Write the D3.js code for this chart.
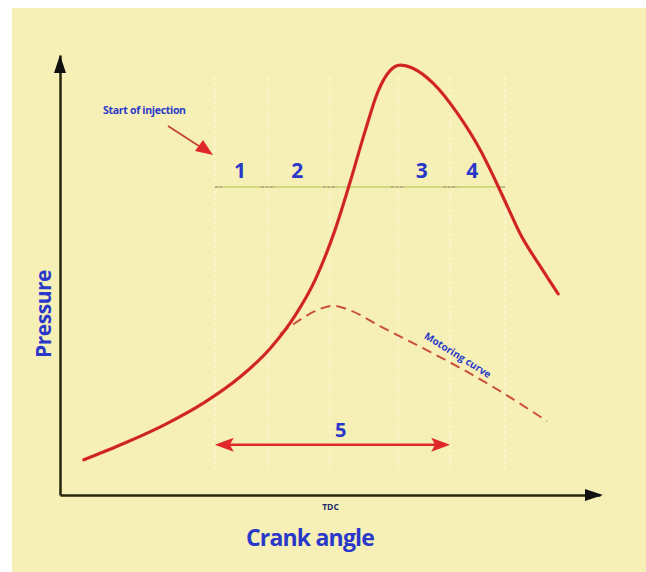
<!DOCTYPE html>
<html>
<head>
<meta charset="utf-8">
<script src="https://cdn.jsdelivr.net/npm/d3@7"></script>
<style>
  html, body { margin: 0; padding: 0; background: #fff; }
  svg { display: block; }
</style>
</head>
<body>
<div id="chart"></div>
<script>
// crank angle in degrees (TDC = 0), pressure in arbitrary units (0..100)
const firedAngle    = [-54.7, -45.6, -36.7, -27.8, -20, -13.3, -7.8, -3.3, 1.1, 4.4, 7.8, 10.7, 13.3, 15.6, 18.4, 22.9, 28.4, 33.6, 36.7, 39.6, 42.2, 46.7, 50.7];
const firedPressure = [8.0, 11.8, 16.0, 21.1, 26.8, 33.3, 40.7, 48.9, 60.2, 70.9, 82.7, 91.8, 96.4, 97.7, 97.0, 93.6, 86.6, 78.0, 71.6, 65.2, 59.5, 52.0, 45.7];

const motorAngle    = [-11.1, -6.7, -2.2, 0.9, 4.4, 11.1, 20.2, 28.9, 37.8, 48.2];
const motorPressure = [36.6, 39.8, 42.3, 43.0, 42.0, 38.4, 33.6, 28.9, 23.6, 16.8];

const dividerAngles = [-25.6, -13.8, 0, 15.1, 26.7, 38.9];
const phaseLabels   = ["1", "2", "3", "4"];
const phaseAngles   = [-20, -7.3, 20.4, 31.6];
const phaseLevel    = 70;

const delayLabel    = "5";
const delayRange    = [-25.6, 26.7];
const delayLevel    = 11.4;

const W = 646, H = 572;
const BLUE = "#2a38c9";
const RED = "#e0282a";
const FONT = "'Open Sans', 'Noto Sans', sans-serif";

const svg = d3.select("#chart").append("svg")
  .attr("width", W).attr("height", H);

svg.append("rect")
  .attr("x", 12).attr("y", 8)
  .attr("width", W - 12).attr("height", H - 8)
  .attr("fill", "#f6f0b6");

const x = d3.scaleLinear().domain([-60, 60]).range([60, 600]);
const y = d3.scaleLinear().domain([0, 100]).range([495, 55]);

// faint vertical guide lines
svg.append("g").selectAll("line")
  .data(dividerAngles)
  .join("line")
  .attr("x1", d => x(d)).attr("x2", d => x(d))
  .attr("y1", y(95)).attr("y2", y(5))
  .attr("stroke", "#fffbe0")
  .attr("stroke-width", 1.5)
  .attr("stroke-dasharray", "3,3")
  .attr("opacity", 0.7);

// phase line
svg.append("line")
  .attr("x1", x(dividerAngles[0])).attr("x2", x(dividerAngles[dividerAngles.length - 1]))
  .attr("y1", y(phaseLevel)).attr("y2", y(phaseLevel))
  .attr("stroke", "#a9c24a")
  .attr("stroke-width", 1.2);

svg.append("g").selectAll("line")
  .data(dividerAngles)
  .join("line")
  .attr("x1", (d, i) => x(d) - (i === 0 ? 0 : 7))
  .attr("x2", (d, i) => x(d) + (i === dividerAngles.length - 1 ? 0 : 7))
  .attr("y1", y(phaseLevel)).attr("y2", y(phaseLevel))
  .attr("stroke", "#b9b082")
  .attr("stroke-width", 2)
  .attr("stroke-dasharray", "3,1.5");

svg.append("g").selectAll("text")
  .data(phaseLabels)
  .join("text")
  .attr("x", (d, i) => x(phaseAngles[i]))
  .attr("y", y(phaseLevel) - 9)
  .attr("text-anchor", "middle")
  .attr("font-family", FONT)
  .attr("font-weight", 700)
  .attr("font-size", 21)
  .attr("fill", BLUE)
  .text(d => d);

// axes
const xAxis = svg.append("g")
  .attr("transform", `translate(0,${y(0)})`)
  .call(d3.axisBottom(x).tickValues([0]).tickFormat(() => "TDC").tickSize(0).tickSizeOuter(0).tickPadding(9));
xAxis.select(".domain").attr("stroke", "#26240c").attr("stroke-width", 2.5);
xAxis.selectAll("text")
  .attr("font-family", FONT).attr("font-weight", 700).attr("font-size", 8.5)
  .attr("fill", "#1e2a6a");

const yAxis = svg.append("g")
  .attr("transform", `translate(${x(-60)},0)`)
  .call(d3.axisLeft(y).tickValues([]).tickSizeOuter(0));
yAxis.select(".domain").attr("stroke", "#26240c").attr("stroke-width", 2.5);

// axis arrowheads
svg.append("path")
  .attr("d", `M${x(-60)},${y(100)} L${x(-60) - 6},${y(100) + 18} L${x(-60) + 6},${y(100) + 18} Z`)
  .attr("fill", "#111");
svg.append("path")
  .attr("d", `M${x(60) + 3},${y(0)} L${x(60) - 15},${y(0) - 6} L${x(60) - 15},${y(0) + 6} Z`)
  .attr("fill", "#111");

// motoring curve
const motorLine = d3.line()
  .x((d, i) => x(motorAngle[i]))
  .y(d => y(d))
  .curve(d3.curveMonotoneX);
svg.append("path")
  .attr("d", motorLine(motorPressure))
  .attr("fill", "none")
  .attr("stroke", "#c9503a")
  .attr("stroke-width", 2)
  .attr("stroke-dasharray", "10,6");

// fired pressure curve
const firedLine = d3.line()
  .x((d, i) => x(firedAngle[i]))
  .y(d => y(d))
  .curve(d3.curveMonotoneX);
svg.append("path")
  .attr("d", firedLine(firedPressure))
  .attr("fill", "none")
  .attr("stroke", RED)
  .attr("stroke-width", 3.2)
  .attr("stroke-linecap", "round");
svg.append("path")
  .attr("d", firedLine(firedPressure))
  .attr("fill", "none")
  .attr("stroke", "#a8261c")
  .attr("stroke-width", 1.2)
  .attr("opacity", 0.6);

// motoring label
svg.append("text")
  .attr("transform", `translate(${x(28.4)},${y(31.8)}) rotate(32)`)
  .attr("text-anchor", "middle")
  .attr("dy", "0.35em")
  .attr("font-family", FONT).attr("font-weight", 700).attr("font-size", 10)
  .attr("fill", BLUE)
  .text("Motoring curve");

// ignition delay double arrow
const ay = y(delayLevel);
const ax0 = x(delayRange[0]), ax1 = x(delayRange[1]);
svg.append("line")
  .attr("x1", ax0 + 10).attr("x2", ax1 - 10)
  .attr("y1", ay).attr("y2", ay)
  .attr("stroke", RED).attr("stroke-width", 2.5);
svg.append("path")
  .attr("d", `M${ax0},${ay} L${ax0 + 19},${ay - 7} L${ax0 + 15},${ay} L${ax0 + 19},${ay + 7} Z`)
  .attr("fill", RED);
svg.append("path")
  .attr("d", `M${ax1},${ay} L${ax1 - 19},${ay - 7} L${ax1 - 15},${ay} L${ax1 - 19},${ay + 7} Z`)
  .attr("fill", RED);
svg.append("text")
  .attr("x", x(2.4)).attr("y", ay - 8)
  .attr("text-anchor", "middle")
  .attr("font-family", FONT).attr("font-weight", 700).attr("font-size", 20)
  .attr("fill", BLUE)
  .text(delayLabel);

// start of injection
svg.append("text")
  .attr("x", 103).attr("y", 114)
  .attr("font-family", FONT).attr("font-weight", 700).attr("font-size", 10.5)
  .attr("letter-spacing", -0.3)
  .attr("fill", BLUE)
  .text("Start of injection");
svg.append("line")
  .attr("x1", 168).attr("y1", 126)
  .attr("x2", 202).attr("y2", 148)
  .attr("stroke", "#c0402a").attr("stroke-width", 1.6);
svg.append("path")
  .attr("d", "M213,155 L195,151 L203,140 Z")
  .attr("fill", RED);

// axis titles
svg.append("text")
  .attr("x", 310).attr("y", 546)
  .attr("text-anchor", "middle")
  .attr("font-family", FONT).attr("font-weight", 700).attr("font-size", 23)
  .attr("letter-spacing", -0.8)
  .attr("fill", BLUE)
  .text("Crank angle");
svg.append("text")
  .attr("transform", "translate(51,314) rotate(-90)")
  .attr("text-anchor", "middle")
  .attr("font-family", FONT).attr("font-weight", 700).attr("font-size", 21)
  .attr("letter-spacing", -0.5)
  .attr("fill", BLUE)
  .text("Pressure");
</script>
</body>
</html>
